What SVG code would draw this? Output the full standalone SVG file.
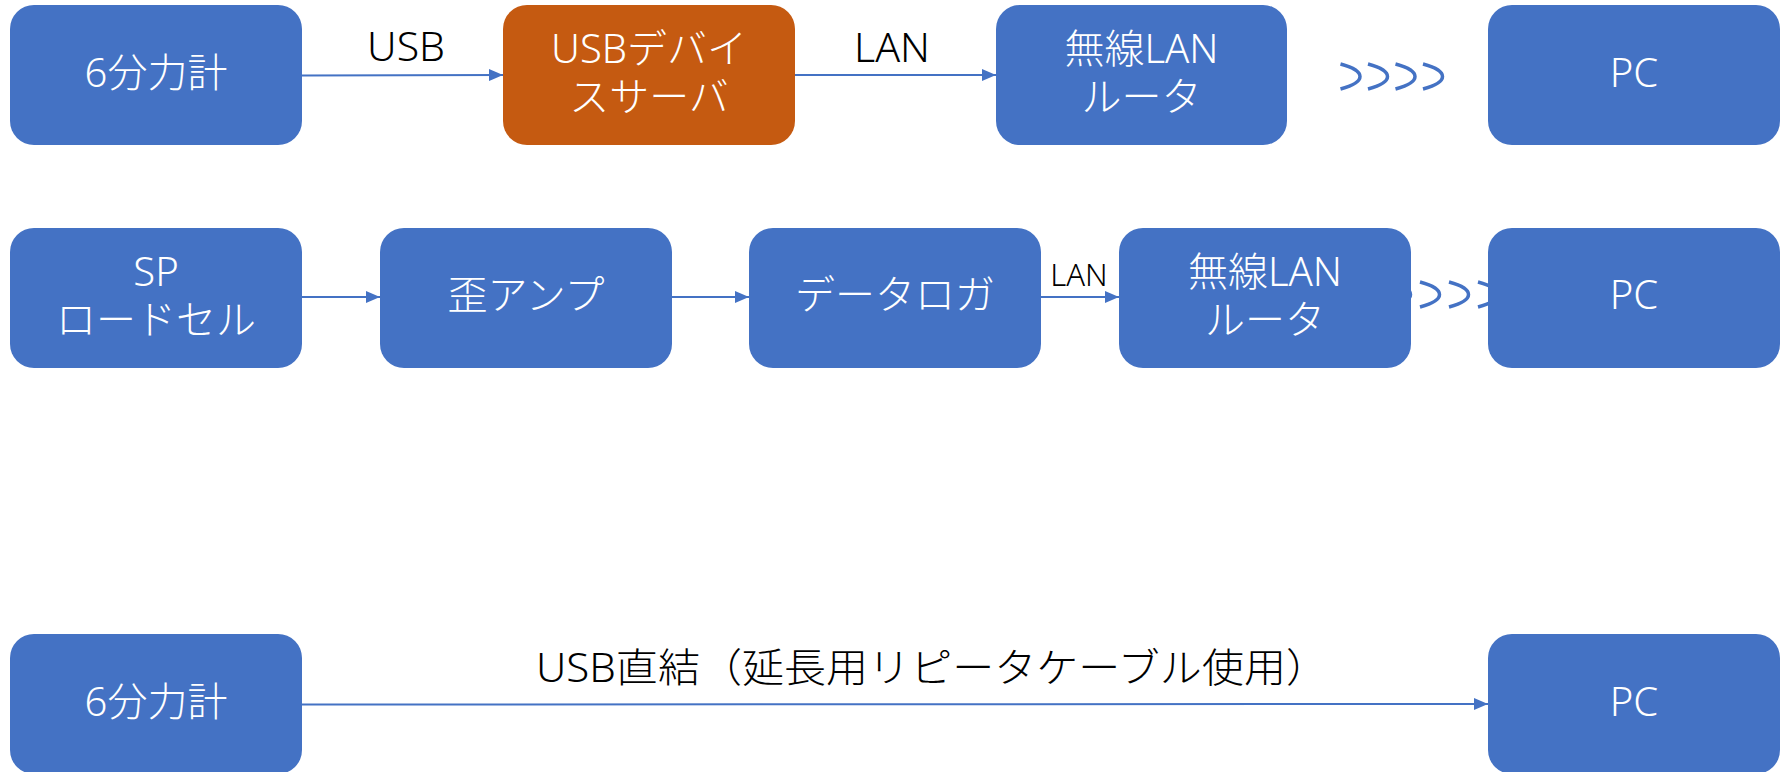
<svg xmlns="http://www.w3.org/2000/svg" width="1780" height="772" viewBox="0 0 1780 772">
<defs>
<style>
.box{fill:#4472C4;}
.org{fill:#C55A11;}
.t{font-family:"Noto Sans","Noto Sans CJK JP",sans-serif;font-size:40px;font-weight:300;fill:#FFFFFF;text-anchor:middle;}
.lbl{font-family:"Noto Sans","Noto Sans CJK JP",sans-serif;font-weight:300;fill:#000000;}
.ln{stroke:#4472C4;stroke-width:2;fill:none;}
.wave{stroke:#4472C4;stroke-width:3.5;fill:none;}
</style>
<marker id="arr" markerUnits="userSpaceOnUse" markerWidth="14" markerHeight="12" refX="14" refY="6" orient="auto">
<path d="M0,0 L14,6 L0,12 Z" fill="#4472C4"/>
</marker>
<path id="arc" d="M0,-13 C26,-6 26,5 0,12"/>
</defs>
<rect width="1780" height="772" fill="#FFFFFF"/>

<g id="waves">
<use href="#arc" class="wave" x="1340.5" y="77"/>
<use href="#arc" class="wave" x="1368" y="77"/>
<use href="#arc" class="wave" x="1395.5" y="77"/>
<use href="#arc" class="wave" x="1423" y="77"/>
<use href="#arc" class="wave" x="1391" y="295"/>
<use href="#arc" class="wave" x="1420" y="295"/>
<use href="#arc" class="wave" x="1449" y="295"/>
<use href="#arc" class="wave" x="1478" y="295"/>
</g>

<g id="connectors">
<line class="ln" x1="302" y1="75.5" x2="503" y2="75" marker-end="url(#arr)"/>
<line class="ln" x1="795" y1="75" x2="996" y2="75" marker-end="url(#arr)"/>
<line class="ln" x1="302" y1="297" x2="380" y2="297" marker-end="url(#arr)"/>
<line class="ln" x1="672" y1="297" x2="749" y2="297" marker-end="url(#arr)"/>
<line class="ln" x1="1041" y1="297" x2="1119" y2="297" marker-end="url(#arr)"/>
<line class="ln" x1="302" y1="704.5" x2="1488" y2="704" marker-end="url(#arr)"/>
<text class="lbl" x="406" y="61" font-size="41" text-anchor="middle">USB</text>
<text class="lbl" x="892" y="62" font-size="41" text-anchor="middle">LAN</text>
<text class="lbl" x="1079" y="286" font-size="31" text-anchor="middle">LAN</text>
<text class="lbl" x="536" y="682" font-size="40" textLength="792" lengthAdjust="spacingAndGlyphs">USB直結（延長用リピータケーブル使用）</text>
</g>

<g id="n1">
<rect class="box" x="10" y="5" width="292" height="140" rx="24"/>
<text class="t" x="156" y="87">6分力計</text>
</g>
<g id="n2">
<rect class="org" x="503" y="5" width="292" height="140" rx="24"/>
<text class="t"><tspan x="649" y="63">USBデバイ</tspan><tspan x="649" y="111">スサーバ</tspan></text>
</g>
<g id="n3">
<rect class="box" x="996" y="5" width="291" height="140" rx="24"/>
<text class="t"><tspan x="1141.5" y="63">無線LAN</tspan><tspan x="1141.5" y="111">ルータ</tspan></text>
</g>
<g id="n4">
<rect class="box" x="1488" y="5" width="292" height="140" rx="24"/>
<text class="t" x="1634" y="87">PC</text>
</g>

<g id="n5">
<rect class="box" x="10" y="228" width="292" height="140" rx="24"/>
<text class="t"><tspan x="156" y="286">SP</tspan><tspan x="156" y="334">ロードセル</tspan></text>
</g>
<g id="n6">
<rect class="box" x="380" y="228" width="292" height="140" rx="24"/>
<text class="t" x="526" y="309">歪アンプ</text>
</g>
<g id="n7">
<rect class="box" x="749" y="228" width="292" height="140" rx="24"/>
<text class="t" x="895" y="309">データロガ</text>
</g>
<g id="n8">
<rect class="box" x="1119" y="228" width="292" height="140" rx="24"/>
<text class="t"><tspan x="1265" y="286">無線LAN</tspan><tspan x="1265" y="334">ルータ</tspan></text>
</g>
<g id="n9">
<rect class="box" x="1488" y="228" width="292" height="140" rx="24"/>
<text class="t" x="1634" y="309">PC</text>
</g>

<g id="n10">
<rect class="box" x="10" y="634" width="292" height="140" rx="24"/>
<text class="t" x="156" y="716">6分力計</text>
</g>
<g id="n11">
<rect class="box" x="1488" y="634" width="292" height="140" rx="24"/>
<text class="t" x="1634" y="716">PC</text>
</g>
</svg>
